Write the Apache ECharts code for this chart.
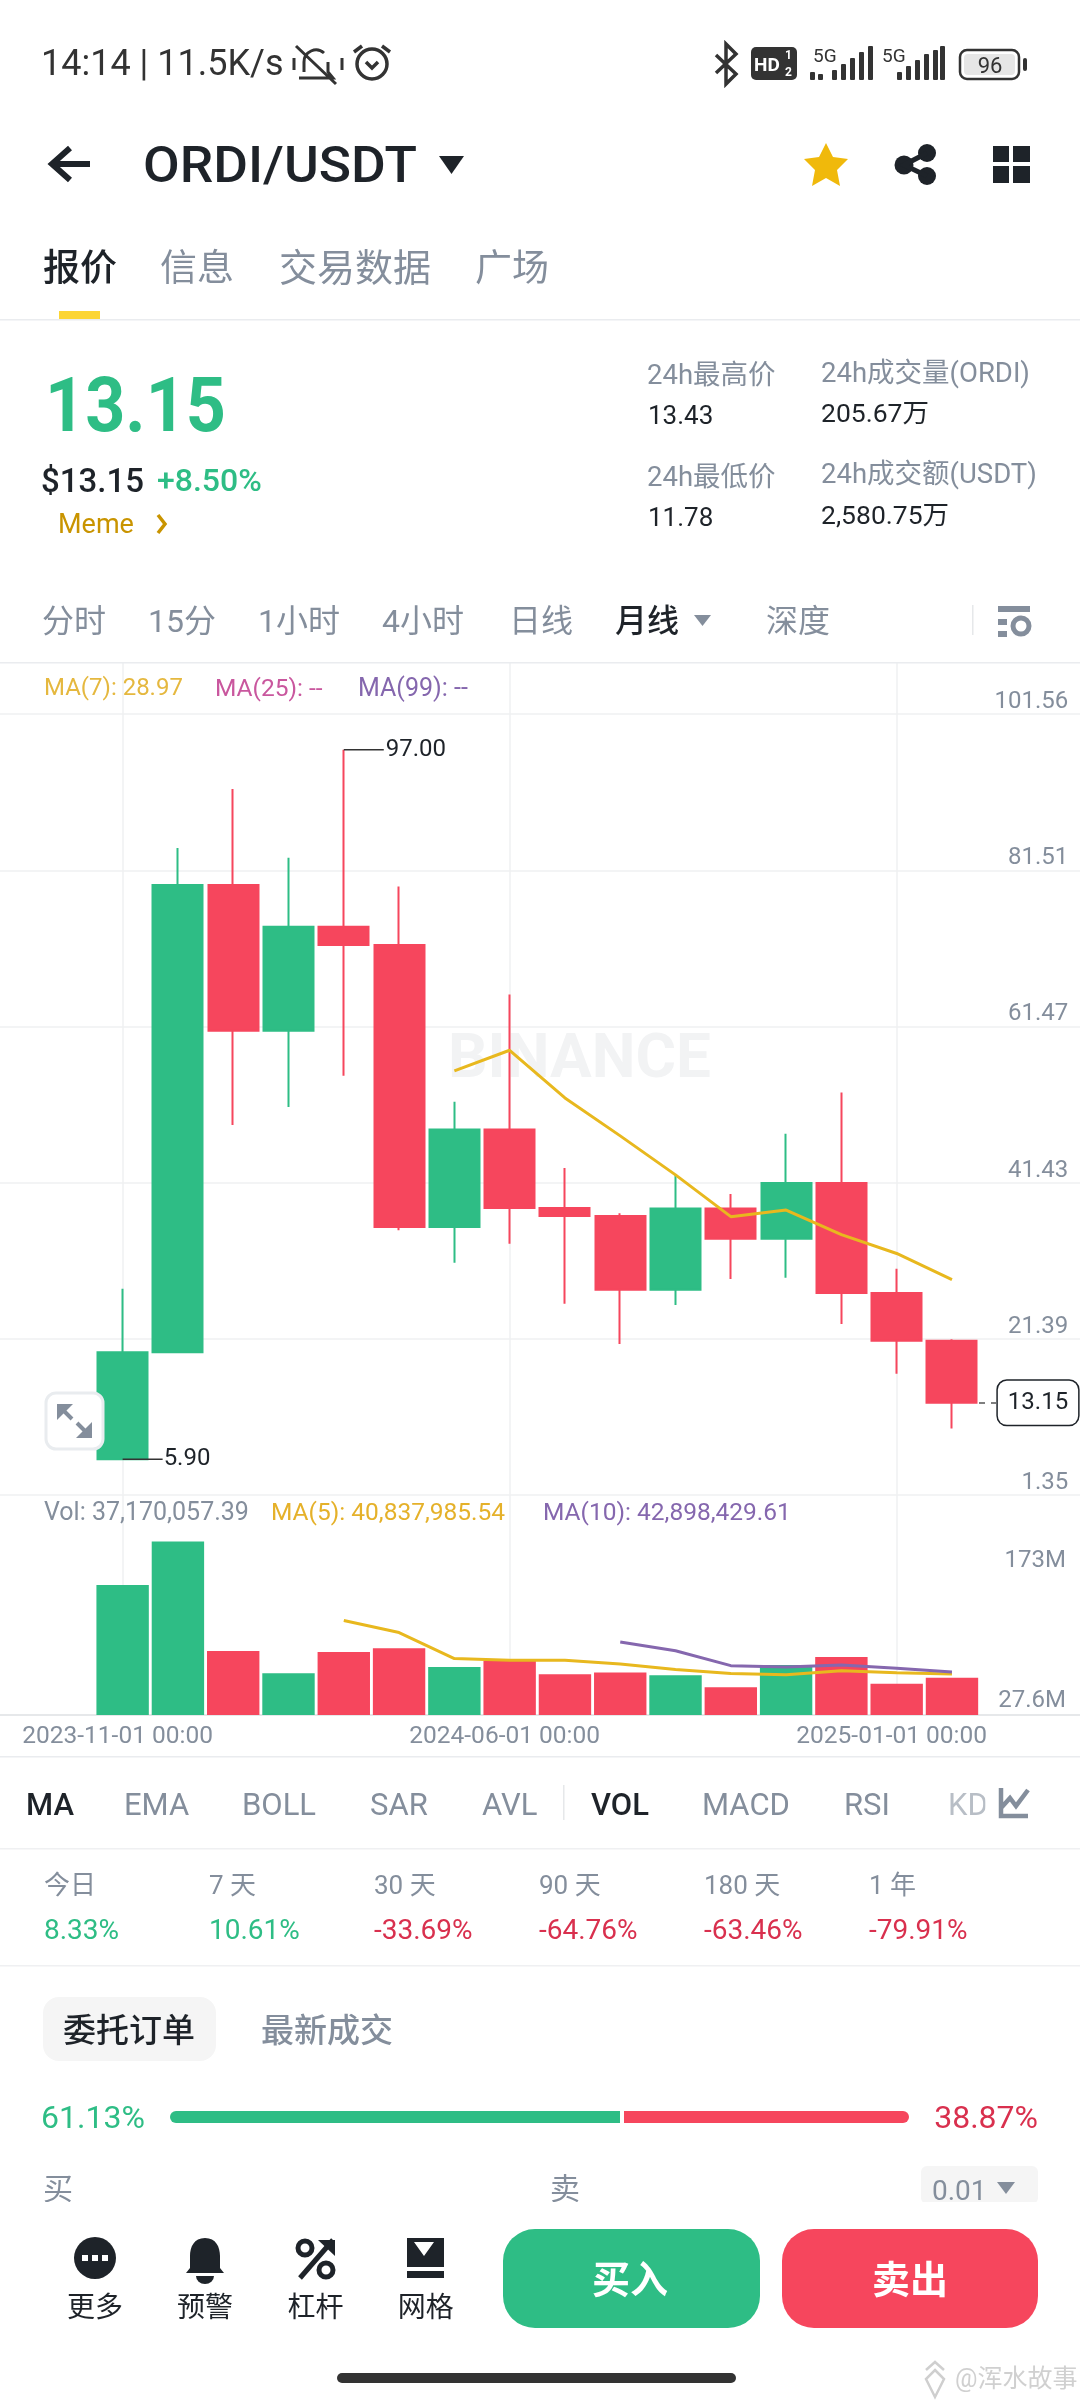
<!DOCTYPE html>
<html><head><meta charset="utf-8">
<style>
html,body{margin:0;padding:0;background:#fff;width:1080px;height:2400px;overflow:hidden}
#c{position:absolute;left:0;top:0;width:1080px;height:2400px}
#ui{position:absolute;left:0;top:0;width:1080px;height:2400px;pointer-events:none}
#ui text{font-family:Roboto,"Noto Sans CJK SC",sans-serif;dominant-baseline:central}
</style>
<script src="https://cdn.jsdelivr.net/npm/echarts@6/dist/echarts.min.js"></script>
</head><body>
<div id="c"></div>
<svg id="ui" xmlns="http://www.w3.org/2000/svg" width="1080" height="2400" viewBox="0 0 1080 2400"></svg>
<script>
const months = ["2023-11-01 00:00","2023-12-01 00:00","2024-01-01 00:00","2024-02-01 00:00","2024-03-01 00:00","2024-04-01 00:00","2024-05-01 00:00","2024-06-01 00:00","2024-07-01 00:00","2024-08-01 00:00","2024-09-01 00:00","2024-10-01 00:00","2024-11-01 00:00","2024-12-01 00:00","2025-01-01 00:00","2025-02-01 00:00"];
const shownMonths = ["2023-11-01 00:00","2024-06-01 00:00","2025-01-01 00:00"];
const opens  = [5.90,19.65,79.64,60.92,74.28,71.91,35.73,48.25,38.16,37.12,27.66,38.09,34.20,41.36,27.24,21.11];
const closes = [19.65,79.64,60.92,74.28,71.91,35.73,48.25,38.16,37.12,27.66,38.09,34.20,41.36,27.24,21.11,13.15];
const lows   = [5.90,19.60,48.81,51.11,55.14,35.31,31.13,33.57,25.85,20.70,25.71,29.05,29.19,23.27,16.87,9.84];
const highs  = [27.79,84.37,91.96,83.12,97.00,79.43,51.80,65.58,43.31,37.47,42.41,39.97,47.70,52.99,30.37,21.30];
const ma7    = [null,null,null,null,null,null,55.77,58.41,52.29,47.42,42.41,37.05,37.89,34.75,32.32,28.97];
const volumes= [129.5,172.6,63.7,41.5,62.7,66.4,47.8,53.8,40.5,42.2,39.5,27.6,49.8,57.8,31.2,37.17];
const volMa5 = [null,null,null,null,94.0,82.1,56.2,54.6,54.6,50.7,45.4,41.2,40.0,44.0,42.0,40.84];
const volMa10= [null,null,null,null,null,null,null,null,null,72.7,64.0,49.1,47.8,49.8,46.5,42.90];
const priceTicks = [1.35,21.39,41.43,61.47,81.51,101.56];
const volTickLabels = ["173M","27.6M"];

const GREEN="#2EBD85", RED="#F6465D", DARK="#1E2329", GRAY="#848E9C", LINE="#EFF0F2";
const pad = a => ['-','-',...a.map(v=>v===null?'-':v),'-','-'];
const cats = [' ','  ',...months,'   ','    '];
const candle = [['-','-','-','-'],['-','-','-','-'],
  ...months.map((m,i)=>[opens[i],closes[i],lows[i],highs[i]]),
  ['-','-','-','-'],['-','-','-','-']];
const isShown = (i)=>shownMonths.includes(cats[i]);
const gridL=-15.6, gridR=-10.2;

const chart = echarts.init(document.getElementById('c'),null,{renderer:'canvas'});
chart.setOption({
  animation:false,
  textStyle:{fontFamily:'Roboto,"Noto Sans CJK SC",sans-serif'},
  grid:[
    {left:gridL,right:gridR,top:663,height:831.7,outerBoundsMode:'none'},
    {left:gridL,right:gridR,top:1495,height:220,outerBoundsMode:'none'}
  ],
  xAxis:[
    {type:'category',gridIndex:0,data:cats,boundaryGap:true,
     axisLine:{show:false},axisLabel:{show:false},
     axisTick:{show:false,alignWithLabel:true,interval:i=>isShown(i)},
     splitLine:{show:true,alignWithLabel:true,interval:i=>isShown(i),lineStyle:{color:LINE,width:1.5}}},
    {type:'category',gridIndex:1,data:cats,boundaryGap:true,
     axisLine:{show:true,lineStyle:{color:'#E6E8EA',width:2}},
     axisTick:{show:false,alignWithLabel:true,interval:i=>isShown(i)},
     splitLine:{show:true,alignWithLabel:true,interval:i=>isShown(i),lineStyle:{color:LINE,width:1.5}},
     axisLabel:{show:true,interval:i=>isShown(i),color:GRAY,fontSize:24.5,margin:10,hideOverlap:false,padding:[0,10,0,0],
       formatter:v=>v.trim()?v:''}}
  ],
  yAxis:[
    {type:'value',gridIndex:0,min:1.35,max:108.13,position:'right',scale:true,
     axisLine:{show:false},
     axisTick:{show:false,customValues:priceTicks},
     splitLine:{show:true,lineStyle:{color:LINE,width:1.5}},
     axisLabel:{inside:true,margin:22,color:GRAY,fontSize:24,verticalAlign:'bottom',
       customValues:priceTicks,formatter:v=>v.toFixed(2)}},
    {type:'value',gridIndex:1,min:0,max:219,position:'right',
     axisLine:{show:false},axisTick:{show:false},axisLabel:{show:false},splitLine:{show:false}}
  ],
  graphic:[
    {type:'text',left:448,top:1030,z:0,silent:true,style:{text:'BINANCE',fontSize:62,fontWeight:700,fill:'#F2F3F4',fontFamily:'Roboto'}},
    {type:'polygon',z:0,silent:true,shape:{points:[[403,1038],[421,1056],[403,1074],[385,1056]]},style:{fill:'#F4F5F6'}}
  ],
  series:[
    {type:'candlestick',name:'ORDI/USDT',xAxisIndex:0,yAxisIndex:0,data:candle,barWidth:50.5,
     itemStyle:{color:GREEN,color0:RED,borderColor:GREEN,borderColor0:RED,borderWidth:2},
     markPoint:{silent:true,animation:false,
       data:[
        {coord:[cats[6],97.00],symbol:'rect',symbolSize:[40,1.6],symbolOffset:[20,0],itemStyle:{color:'#333'},
         label:{show:true,formatter:'97.00',position:'right',distance:2,color:DARK,fontSize:24}},
        {coord:[cats[2],5.90],symbol:'rect',symbolSize:[40,1.6],symbolOffset:[20,0],itemStyle:{color:'#333'},
         label:{show:true,formatter:'5.90',position:'right',distance:1,color:DARK,fontSize:24}},
        {coord:[cats[17],13.15],symbol:'rect',symbolSize:1,itemStyle:{color:'rgba(0,0,0,0)'},
         label:{show:true,formatter:'13.15',position:'inside',offset:[86,0],color:DARK,fontSize:24,
           backgroundColor:'#fff',borderColor:DARK,borderWidth:1.5,borderRadius:9,padding:[10,10]}}
       ]},
     markLine:{silent:true,symbol:'none',animation:false,label:{show:false},
       lineStyle:{color:'#555',type:[6,6],width:1.5},
       data:[[{x:979,yAxis:13.15},{x:996,yAxis:13.15}]]}
    },
    {type:'line',name:'MA(7)',xAxisIndex:0,yAxisIndex:0,data:pad(ma7),showSymbol:false,symbol:'none',
     lineStyle:{color:'#E8B81E',width:3},z:5},
    {type:'bar',name:'Vol',xAxisIndex:1,yAxisIndex:1,barWidth:52.4,
     data:pad(volumes).map((v,i)=>{
       if(v==='-')return '-';
       const k=i-2;return {value:v,itemStyle:{color:closes[k]>=opens[k]?GREEN:RED}};
     })},
    {type:'line',name:'MA(5)',xAxisIndex:1,yAxisIndex:1,data:pad(volMa5),showSymbol:false,symbol:'none',
     lineStyle:{color:'#E8B81E',width:3},z:5},
    {type:'line',name:'MA(10)',xAxisIndex:1,yAxisIndex:1,data:pad(volMa10),showSymbol:false,symbol:'none',
     lineStyle:{color:'#8567AE',width:3},z:5}
  ]
});

/* page furniture */
const ui=document.getElementById('ui');let s='';
const T=(t,x,y,sz,col,w,anc,extra)=>{s+=`<text x="${x}" y="${y}" font-size="${sz}" fill="${col}" font-weight="${w||400}" text-anchor="${anc||'start'}" ${extra||''}>${t}</text>`;};
const R=(x,y,w,h,col,r)=>{s+=`<rect x="${x}" y="${y}" width="${w}" height="${h}" fill="${col}" rx="${r||0}"/>`;};
const P=(d,fill,extra)=>{s+=`<path d="${d}" fill="${fill||'none'}" ${extra||''}/>`;};

// status bar
T('14:14 | 11.5K/s',41,63,36,'#333');
P('M296 46 L336 84 M304 72 V62 a12 12 0 0 1 20 -9 M328 62 V72 L333 78 H299','none','stroke="#333" stroke-width="3"');
P('M294 58 v12 M342 58 v12','none','stroke="#333" stroke-width="3"');
s+='<circle cx="372" cy="64" r="15" fill="none" stroke="#333" stroke-width="3.5"/>';
P('M354 52 L362 46 M390 52 L382 46 M366 62 L372 68 L378 62','none','stroke="#333" stroke-width="3.5"');
P('M716 55 L736 74 L726 84 V44 L736 54 L716 73','none','stroke="#333" stroke-width="3.5"');
R(751,47,46,33,'#333',5);T('HD',754,64,19,'#fff',700);T('1',785,55,12,'#fff',700);T('2',785,72,12,'#fff',700);
T('5G',813,55,19,'#333');T('5G',882,55,19,'#333');
[[810,8],[818,6],[832,10],[841,16],[850,22],[859,28],[868,34]].forEach(b=>R(b[0],80-b[1],5,b[1],'#333',1));
[[897,8],[906,14],[915,20],[924,26],[933,30],[940,34]].forEach(b=>R(b[0],80-b[1],5,b[1],'#333',1));
s+='<rect x="960" y="50" width="59" height="29" rx="7" fill="none" stroke="#333" stroke-width="2.5"/>';
R(964,54,51,21,'#e6e6e6',4);T('96',990,65,22,'#333',400,'middle');R(1023,58,4,13,'#333',2);

// header
P('M90 164 H54 M70 148 L52 164 L70 180','none','stroke="#1E2329" stroke-width="6"');
T('ORDI/USDT',143,165,50,DARK,500,'start','textLength="274" lengthAdjust="spacingAndGlyphs"');
P('M439 156 H464 L451.5 174 Z',DARK);
P('M826 143 L833 157 L848 159 L837 170 L840 186 L826 178 L812 186 L815 170 L804 159 L819 157 Z','#F0B90B');
s+='<g fill="#1E2329"><circle cx="927" cy="153" r="9"/><circle cx="904" cy="165" r="9.5"/><circle cx="927" cy="176" r="9"/></g>';
P('M927 153 L904 165 L927 176','none','stroke="#1E2329" stroke-width="5"');
R(993,146,16,16,DARK);R(1013,146,17,16,DARK);R(993,166,16,17,DARK);R(1013,166,17,17,DARK);

// tabs
T('报价',43,268,37,DARK,500);T('信息',160,268,37,GRAY);T('交易数据',279,268,38,GRAY);T('广场',475,268,37,GRAY);
R(59,311,41,8,'#FCD535');R(0,319,1080,1.5,'#EAECEF');

// price block
T('13.15',45,405,76,GREEN,700,'start','textLength="181" lengthAdjust="spacingAndGlyphs"');
T('$13.15',41,480,33,DARK,500);T('+8.50%',157,480,32,GREEN,500);
T('Meme',58,524,27,'#C99400');P('M158 515 L165 524 L158 533','none','stroke="#C99400" stroke-width="3.5"');
T('24h最高价',647,374,27.5,GRAY);T('13.43',648,415,26,DARK);
T('24h成交量(ORDI)',821,372,27.5,GRAY);T('205.67万',821,412,26.5,DARK);
T('24h最低价',647,476,27.5,GRAY);T('11.78',648,517,26,DARK);
T('24h成交额(USDT)',821,473,27.5,GRAY);T('2,580.75万',821,514,26.5,DARK);

// period row
[['分时',42],['15分',148],['1小时',258],['4小时',382],['日线',509],['深度',766]].forEach(a=>T(a[0],a[1],621,32,GRAY));
T('月线',615,621,32,DARK,500);P('M694 615 H711 L702.5 626 Z',GRAY);
R(972,605,1.5,30,'#E6E8EA');
R(998,606,32,6,GRAY);R(998,619,9,6,GRAY);R(998,631,9,6,GRAY);
s+='<circle cx="1021" cy="626" r="8" fill="none" stroke="'+GRAY+'" stroke-width="5"/>';
R(0,662,1080,1.5,'#EAECEF');

// chart legends
T('MA(7): 28.97',44,687,24,'#E5B83F');T('MA(25): --',215,687,24.5,'#C9579E');T('MA(99): --',358,687,25,'#8567AE');
T('Vol: 37,170,057.39',44,1511,25,GRAY);T('MA(5): 40,837,985.54',271,1511,24.5,'#E5B12A');T('MA(10): 42,898,429.61',543,1511,24.5,'#8567AE');
T(volTickLabels[0],1066,1559,24,GRAY,400,'end');T(volTickLabels[1],1066,1699,24,GRAY,400,'end');

// expand button
s+='<rect x="46" y="1393" width="57" height="56" rx="10" fill="#fff" stroke="#E9ECEF" stroke-width="3"/>';
P('M57 1404 H73 L57 1420 Z',GRAY);P('M92 1438 H76 L92 1422 Z',GRAY);
P('M62 1409 L72 1419 M87 1433 L77 1423','none','stroke="'+GRAY+'" stroke-width="4"');

// indicators
R(0,1756,1080,1.5,'#EAECEF');
T('MA',26,1804,31,DARK,500);
[['EMA',124],['BOLL',242],['SAR',370],['AVL',482],['MACD',702],['RSI',844]].forEach(a=>T(a[0],a[1],1804,31,GRAY));
R(563,1785,1.5,35,'#E6E8EA');T('VOL',591,1804,31,DARK,500);T('KD',948,1804,31,'#B8BEC6');
R(985,1780,14,45,'rgba(255,255,255,0.7)');R(999,1780,81,45,'#fff');
P('M1001 1788 V1816 H1028 M1001 1808 L1010 1798 L1016 1806 L1028 1790','none','stroke="'+GRAY+'" stroke-width="4.5"');
R(0,1848,1080,1.5,'#EFF0F2');

// performance
const perfL=['今日','7 天','30 天','90 天','180 天','1 年'],perfV=['8.33%','10.61%','-33.69%','-64.76%','-63.46%','-79.91%'],perfX=[44,209,374,539,704,869];
perfL.forEach((t,i)=>{T(t,perfX[i],1885,26,GRAY);T(perfV[i],perfX[i],1929,28,i<2?GREEN:'#D9304E');});
R(0,1965,1080,1.5,'#EFF0F2');

// order book
R(43,1997,173,64,'#F5F5F5',16);T('委托订单',63,2030,33,DARK,500);T('最新成交',261,2030,33,GRAY,500);
T('61.13%',41,2117,32,GREEN);T('38.87%',1038,2117,32,'#D9304E',400,'end');
s+='<path d="M176 2111 H620 V2123 H176 a6 6 0 0 1 0 -12 Z" fill="'+GREEN+'"/><path d="M624 2111 H903 a6 6 0 0 1 0 12 H624 Z" fill="'+RED+'"/>';
T('买',43,2188,30,GRAY);T('卖',550,2188,30,GRAY);
R(921,2166,117,38,'#F5F5F5',6);T('0.01',932,2190,28,GRAY);P('M997 2182 H1015 L1006 2194 Z',GRAY);
R(0,2202,1080,25,'#fff');

// bottom bar
s+='<circle cx="95" cy="2258" r="21" fill="'+DARK+'"/>';R(82,2255,6,6,'#fff');R(92,2255,6,6,'#fff');R(102,2255,6,6,'#fff');
P('M205 2238 c-11 0 -15 9 -15 18 v12 l-4 5 h38 l-4 -5 v-12 c0 -9 -4 -18 -15 -18 Z',DARK);P('M196 2276 a9 8 0 0 0 18 0 Z',DARK);
P('M333 2240 L300 2278','none','stroke="'+DARK+'" stroke-width="5"');
s+='<circle cx="305" cy="2248" r="7" fill="none" stroke="'+DARK+'" stroke-width="5"/><circle cx="326" cy="2270" r="7" fill="none" stroke="'+DARK+'" stroke-width="5"/>';
P('M318 2240 H335 V2256 Z',DARK);
P('M407 2238 H444 V2267 H407 Z M414 2242 L424 2256 L434 2242 Z',DARK);R(407,2271,37,7,DARK);
T('更多',95,2307,28,DARK,400,'middle');T('预警',205,2307,28,DARK,400,'middle');T('杠杆',315.5,2307,28,DARK,400,'middle');T('网格',425.7,2307,28,DARK,400,'middle');
R(503,2229,257,99,GREEN,32);T('买入',630,2280,38,'#fff',700,'middle');
R(782,2229,256,99,RED,32);T('卖出',910,2280,38,'#fff',700,'middle');
R(337,2373,399,10,'#333',5);

// corner mark
P('M935 2370 l9 9 l-9 18 l-9 -18 Z M926 2370 l9 -8 l9 8','none','stroke="#CFCFCF" stroke-width="2.5"');
T('@浑水故事',955,2378,25,'#D0D0D0');

ui.innerHTML=s;
</script>
</body></html>
